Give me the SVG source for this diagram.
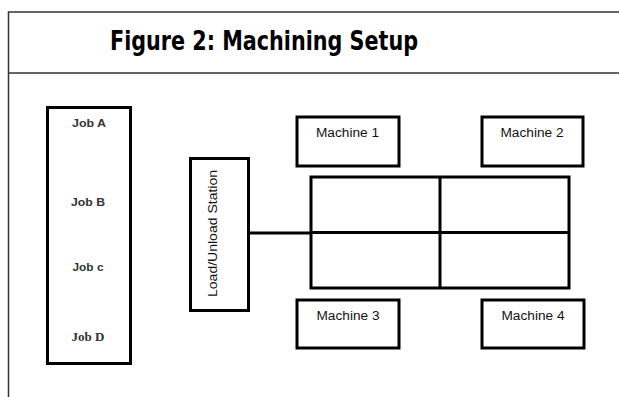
<svg xmlns="http://www.w3.org/2000/svg" width="619" height="397" viewBox="0 0 619 397">
<style>
.frame{fill:none;stroke:#333;stroke-width:1.5}
.box{fill:#fff;stroke:#000;stroke-width:3}
.conn{fill:none;stroke:#000;stroke-width:3}
.lbl{font-family:"Liberation Sans",Arial,sans-serif;font-size:12.5px;fill:#111;text-anchor:middle}
.job{font-family:"Liberation Sans",Arial,sans-serif;font-size:11.5px;font-weight:bold;fill:#333;text-anchor:middle}
.jobd{font-family:"Liberation Serif","Times New Roman",serif;font-size:12px;font-weight:bold;fill:#333;text-anchor:middle}
.title{font-family:"DejaVu Sans",Verdana,sans-serif;font-size:26px;font-weight:bold;fill:#000;text-anchor:middle}
</style>
<rect width="619" height="397" fill="#fff"/>
<g id="frame">
<path class="frame" d="M625 12 H8.5 V400"/>
<path class="frame" d="M8.5 73 H625"/>
<text class="title" x="264" y="49.5" textLength="308" lengthAdjust="spacingAndGlyphs">Figure 2: Machining Setup</text>
</g>
<g id="connectors">
<line class="conn" x1="249" y1="233" x2="311" y2="233"/>
</g>
<g id="jobs">
<rect class="box" x="47.5" y="107.5" width="83" height="256"/>
<text class="job" x="89" y="127" textLength="34" lengthAdjust="spacingAndGlyphs">Job A</text>
<text class="job" x="88" y="206" textLength="34" lengthAdjust="spacingAndGlyphs">Job B</text>
<text class="job" x="88" y="271" textLength="31" lengthAdjust="spacingAndGlyphs">Job c</text>
<text class="jobd" x="88" y="341" textLength="33" lengthAdjust="spacingAndGlyphs">Job D</text>
</g>
<g id="load-station">
<rect class="box" x="190.5" y="158.5" width="58" height="152"/>
<text class="lbl" transform="translate(217 233.5) rotate(-90)" x="0" y="0" textLength="127" lengthAdjust="spacingAndGlyphs">Load/Unload Station</text>
</g>
<g id="grid">
<rect class="box" x="311" y="177" width="258" height="111"/>
<line class="conn" x1="440" y1="177" x2="440" y2="288"/>
<line class="conn" x1="311" y1="232.5" x2="569" y2="232.5"/>
</g>
<g id="machine1">
<rect class="box" x="297" y="117" width="102" height="49"/>
<text class="lbl" x="347.5" y="137" textLength="63" lengthAdjust="spacingAndGlyphs">Machine 1</text>
</g>
<g id="machine2">
<rect class="box" x="482" y="117" width="101" height="49"/>
<text class="lbl" x="532" y="137" textLength="63" lengthAdjust="spacingAndGlyphs">Machine 2</text>
</g>
<g id="machine3">
<rect class="box" x="297" y="300" width="102" height="48"/>
<text class="lbl" x="348" y="320" textLength="63" lengthAdjust="spacingAndGlyphs">Machine 3</text>
</g>
<g id="machine4">
<rect class="box" x="482" y="300" width="102" height="48"/>
<text class="lbl" x="533" y="320" textLength="63" lengthAdjust="spacingAndGlyphs">Machine 4</text>
</g>
</svg>
